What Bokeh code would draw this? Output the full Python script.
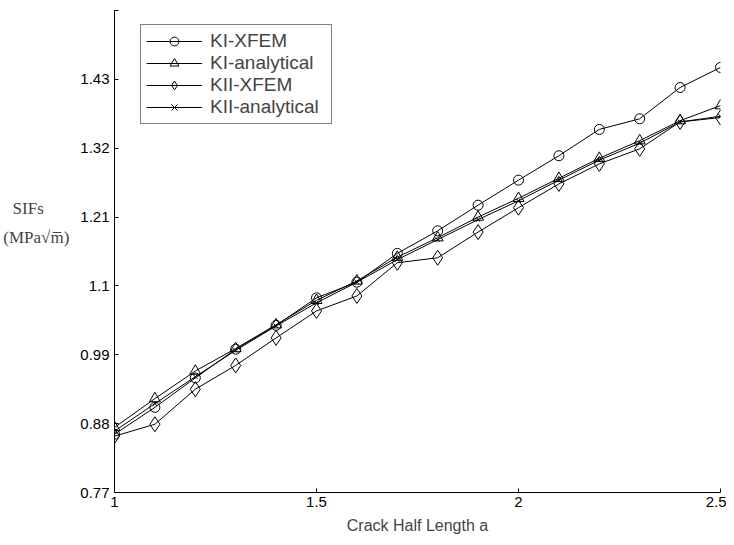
from bokeh.plotting import figure
from bokeh.models import FixedTicker, Label, Legend, LegendItem, Range1d
from bokeh.embed import file_html
from bokeh.resources import INLINE

# ---- data ----
a = [1.0, 1.1, 1.2, 1.3, 1.4, 1.5, 1.6, 1.7, 1.8, 1.9, 2.0, 2.1, 2.2, 2.3, 2.4, 2.5]
ki_xfem = [0.863, 0.906, 0.953, 0.999, 1.037, 1.081, 1.106, 1.152, 1.188, 1.229, 1.269, 1.308, 1.350, 1.367, 1.417, 1.449]
ki_analytical = [0.874, 0.920, 0.964, 1.000, 1.038, 1.077, 1.108, 1.146, 1.177, 1.210, 1.240, 1.272, 1.304, 1.332, 1.364, 1.388]
kii_xfem = [0.860, 0.879, 0.935, 0.973, 1.017, 1.060, 1.084, 1.137, 1.145, 1.186, 1.225, 1.263, 1.295, 1.319, 1.362, 1.369]
kii_analytical = [0.868, 0.912, 0.955, 0.997, 1.036, 1.073, 1.106, 1.142, 1.174, 1.206, 1.236, 1.269, 1.301, 1.328, 1.362, 1.371]

x_ticks = [1.0, 1.5, 2.0, 2.5]
x_tick_labels = ["1", "1.5", "2", "2.5"]
y_ticks = [0.77, 0.88, 0.99, 1.10, 1.21, 1.32, 1.43, 1.54]
y_tick_labels = ["0.77", "0.88", "0.99", "1.1", "1.21", "1.32", "1.43", ""]

x_label = "Crack Half Length a"
y_label_1 = "SIFs"
y_label_2 = "(MPa\u221am\u0305)"

SANS = "Liberation Sans"
SERIF = "Liberation Serif"

p = figure(width=726, height=537, output_backend="svg", toolbar_location=None,
           x_range=Range1d(1.0, 2.5), y_range=Range1d(0.77, 1.54),
           min_border_left=113, min_border_right=6, min_border_top=10, min_border_bottom=45)
p.background_fill_color = "white"
p.border_fill_color = "white"
p.outline_line_color = None
p.grid.visible = False

for ax in (p.xaxis[0], p.yaxis[0]):
    ax.axis_line_color = "black"
    ax.axis_line_width = 1
    ax.major_tick_line_color = "black"
    ax.major_tick_in = 4
    ax.major_tick_out = 0
    ax.minor_tick_line_color = None
    ax.major_label_text_font = SANS
    ax.major_label_text_font_size = "15px"
    ax.major_label_text_color = "black"

p.xaxis.ticker = FixedTicker(ticks=x_ticks)
p.xaxis.major_label_overrides = dict(zip(x_ticks, x_tick_labels))
p.xaxis.major_label_standoff = 4
p.xaxis.axis_label = x_label
p.xaxis.axis_label_text_font = SANS
p.xaxis.axis_label_text_font_size = "16px"
p.xaxis.axis_label_text_font_style = "normal"
p.xaxis.axis_label_standoff = 7

p.yaxis.ticker = FixedTicker(ticks=y_ticks)
p.yaxis.major_label_overrides = dict(zip(y_ticks, y_tick_labels))
p.yaxis.major_label_standoff = 5

yax = p.yaxis[0]
if hasattr(yax, "axis_label_orientation"):
    yax.axis_label = y_label_1 + "\u00a0" * 6 + "\n" + y_label_2 + "\n \n "
    yax.axis_label_orientation = "horizontal"
    yax.axis_label_text_font = SERIF
    yax.axis_label_text_font_size = "17px"
    yax.axis_label_text_font_style = "normal"
    yax.axis_label_text_line_height = 1.5
    yax.axis_label_standoff = 8
else:
    for txt, yy in ((y_label_1, 280), (y_label_2, 254)):
        p.add_layout(Label(x=-78, y=yy, x_units="screen", y_units="screen", text=txt,
                           text_font=SERIF, text_font_size="17px",
                           text_align="center", text_baseline="middle", text_color="black"))

series = [
    ("KI-XFEM", ki_xfem, "circle", 10),
    ("KI-analytical", ki_analytical, "triangle", 11),
    ("KII-XFEM", kii_xfem, "diamond", 15),
    ("KII-analytical", kii_analytical, "x", 6),
]

items = []
for name, ys, marker, size in series:
    ln = p.line(a, ys, line_color="black", line_width=1)
    sc = p.scatter(a, ys, marker=marker, size=size, line_color="black",
                   fill_color=None, line_width=1)
    items.append(LegendItem(label=name, renderers=[ln, sc]))

legend = Legend(items=items, location=(26, 368))
legend.border_line_color = "black"
legend.border_line_width = 1
legend.background_fill_color = "white"
legend.background_fill_alpha = 1.0
legend.label_text_font = SANS
legend.label_text_font_size = "19px"
legend.label_height = 22
legend.glyph_height = 22
legend.glyph_width = 56
legend.label_width = 116
legend.spacing = 0
legend.padding = 5
legend.margin = 0
legend.label_standoff = 8
p.add_layout(legend, "center")

open("out.html", "w").write(file_html(p, INLINE))
